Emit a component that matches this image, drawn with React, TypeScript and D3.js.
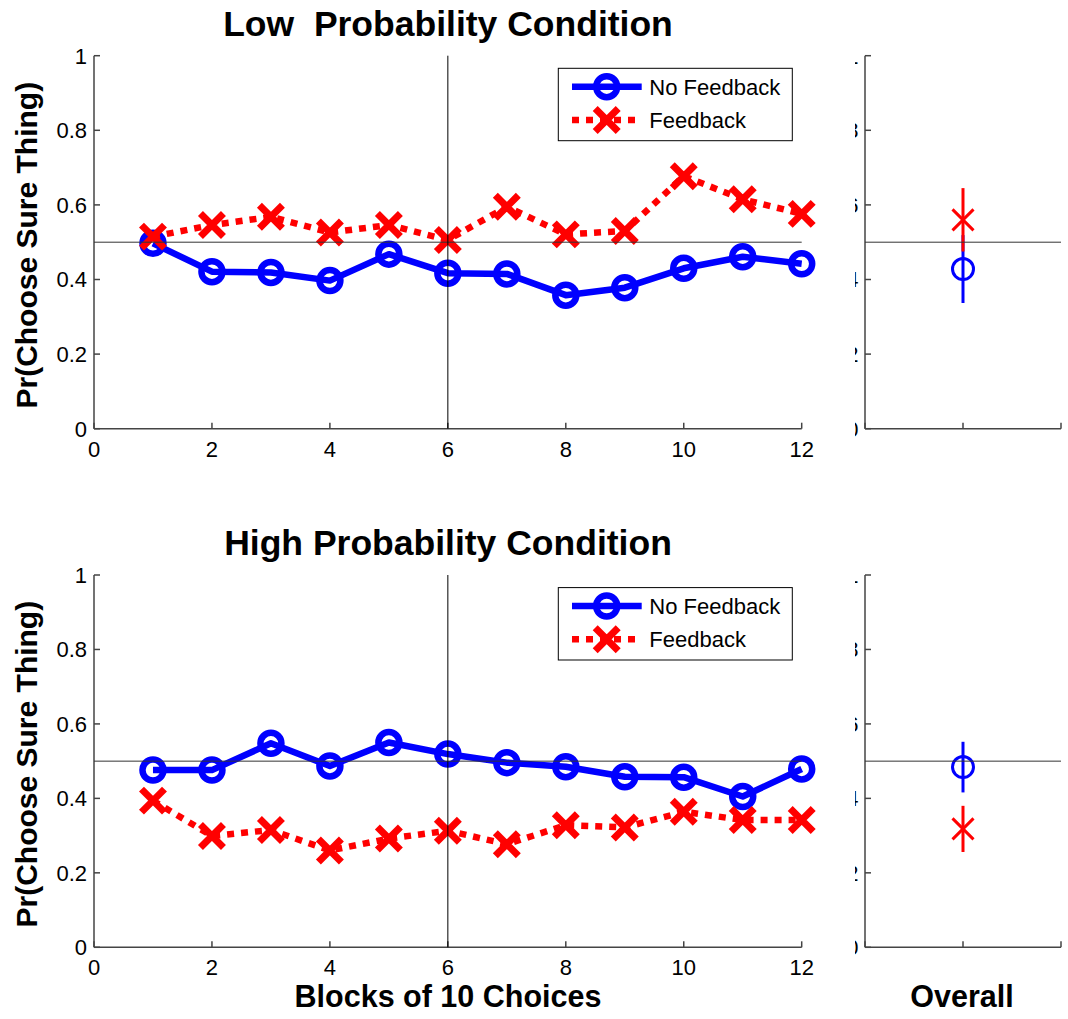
import React, { useEffect, useRef } from "react";
import * as d3 from "d3";

const blocks = [1, 2, 3, 4, 5, 6, 7, 8, 9, 10, 11, 12];
const lowNoFeedback = [0.497, 0.421, 0.419, 0.397, 0.468, 0.417, 0.415, 0.358, 0.378, 0.43, 0.461, 0.442];
const lowFeedback = [0.515, 0.546, 0.568, 0.526, 0.546, 0.506, 0.595, 0.521, 0.53, 0.677, 0.615, 0.576];
const highNoFeedback = [0.476, 0.476, 0.548, 0.487, 0.55, 0.519, 0.496, 0.485, 0.458, 0.457, 0.405, 0.479];
const highFeedback = [0.394, 0.299, 0.315, 0.26, 0.292, 0.313, 0.277, 0.328, 0.322, 0.364, 0.342, 0.342];

// overall mean and half-width of error bar: [no feedback, feedback]
const lowOverall = [0.428, 0.56];
const lowOverallErr = [0.091, 0.085];
const highOverall = [0.484, 0.318];
const highOverallErr = [0.068, 0.062];

const xTicks = [0, 2, 4, 6, 8, 10, 12];
const yTicks = [0, 0.2, 0.4, 0.6, 0.8, 1];
const yTickLabels = ["0", "0.2", "0.4", "0.6", "0.8", "1"];
const overallTicks = [0, 1, 2];
const seriesNames = ["No Feedback", "Feedback"];

const FONT = "'Liberation Sans', Arial, sans-serif";
const BLUE = "#0000ff";
const RED = "#ff0000";
const AXIS = "#444";

const panels = [
    { title: "Low  Probability Condition", top: 55.7, bottom: 428.7, no: lowNoFeedback, fb: lowFeedback, overall: lowOverall, err: lowOverallErr },
    { title: "High Probability Condition", top: 575, bottom: 947.3, no: highNoFeedback, fb: highFeedback, overall: highOverall, err: highOverallErr },
];

const crossPath = (s) => `M${-s},${-s}L${s},${s}M${-s},${s}L${s},${-s}`;

const App = () => {
    const svgRef = useRef(null);

    useEffect(() => {
        const svg = d3.select(svgRef.current);
        svg.selectAll("*").remove();

        svg.append("defs")
            .append("clipPath")
            .attr("id", "rightLabelClip")
            .append("rect")
            .attr("x", 855)
            .attr("y", 0)
            .attr("width", 9)
            .attr("height", 1019);

        const x = d3.scaleLinear().domain([0, 12]).range([94, 801.7]);
        const xo = d3.scaleLinear().domain([0, 2]).range([865, 1061]);

        panels.forEach((p, pi) => {
            const y = d3.scaleLinear().domain([0, 1]).range([p.bottom, p.top]);
            const g = svg.append("g");

            // title
            g.append("text")
                .attr("x", 448)
                .attr("y", p.top - 20)
                .attr("text-anchor", "middle")
                .style("font", `bold 35.5px ${FONT}`)
                .style("white-space", "pre")
                .text(p.title);

            // y label
            g.append("text")
                .attr("transform", `translate(37,${(p.top + p.bottom) / 2 + 3}) rotate(-90)`)
                .attr("text-anchor", "middle")
                .style("font", `bold 30px ${FONT}`)
                .text("Pr(Choose Sure Thing)");

            // axes for both left and right panel
            const drawAxes = (xs, ticks, labelsX) => {
                const x0 = xs.range()[0];
                const x1 = xs.range()[1];
                g.append("line")
                    .attr("x1", x0).attr("x2", x0)
                    .attr("y1", p.top).attr("y2", p.bottom)
                    .attr("stroke", AXIS).attr("stroke-width", 1.5);
                g.append("line")
                    .attr("x1", x0).attr("x2", x1)
                    .attr("y1", p.bottom).attr("y2", p.bottom)
                    .attr("stroke", AXIS).attr("stroke-width", 1.5);
                g.selectAll(null)
                    .data(yTicks)
                    .join("line")
                    .attr("x1", x0).attr("x2", x0 + 6)
                    .attr("y1", (d) => y(d)).attr("y2", (d) => y(d))
                    .attr("stroke", AXIS).attr("stroke-width", 1.5);
                g.selectAll(null)
                    .data(ticks)
                    .join("line")
                    .attr("x1", (d) => xs(d)).attr("x2", (d) => xs(d))
                    .attr("y1", p.bottom).attr("y2", p.bottom - 6)
                    .attr("stroke", AXIS).attr("stroke-width", 1.5);
                if (labelsX) {
                    g.selectAll(null)
                        .data(ticks)
                        .join("text")
                        .attr("x", (d) => xs(d))
                        .attr("y", p.bottom + 28)
                        .attr("text-anchor", "middle")
                        .style("font", `22px ${FONT}`)
                        .text((d) => d);
                }
            };

            drawAxes(x, xTicks, true);
            drawAxes(xo, overallTicks, false);

            g.selectAll(null)
                .data(yTicks)
                .join("text")
                .attr("x", 87)
                .attr("y", (d) => y(d))
                .attr("dy", "0.36em")
                .attr("text-anchor", "end")
                .style("font", `22px ${FONT}`)
                .text((d, i) => yTickLabels[i]);

            // right panel tick labels, mostly hidden behind the left panel
            g.append("g")
                .attr("clip-path", "url(#rightLabelClip)")
                .selectAll("text")
                .data(yTicks)
                .join("text")
                .attr("x", 858.5)
                .attr("y", (d) => y(d))
                .attr("dy", "0.36em")
                .attr("text-anchor", "end")
                .style("font", `22px ${FONT}`)
                .text((d, i) => yTickLabels[i]);

            // series lines
            const line = d3.line().x((d, i) => x(blocks[i])).y((d) => y(d));

            g.append("path")
                .attr("d", line(p.no))
                .attr("fill", "none")
                .attr("stroke", BLUE)
                .attr("stroke-width", 6.5)
                .attr("stroke-linejoin", "round");
            g.selectAll(null)
                .data(p.no)
                .join("circle")
                .attr("cx", (d, i) => x(blocks[i]))
                .attr("cy", (d) => y(d))
                .attr("r", 10.5)
                .attr("fill", "none")
                .attr("stroke", BLUE)
                .attr("stroke-width", 6.5);

            g.append("path")
                .attr("d", line(p.fb))
                .attr("fill", "none")
                .attr("stroke", RED)
                .attr("stroke-width", 6.5)
                .attr("stroke-dasharray", "7,7");
            g.selectAll(null)
                .data(p.fb)
                .join("path")
                .attr("transform", (d, i) => `translate(${x(blocks[i])},${y(d)})`)
                .attr("d", crossPath(11.5))
                .attr("stroke", RED)
                .attr("stroke-width", 7);

            // overall panel
            const cx = xo(1);
            g.append("line")
                .attr("x1", cx).attr("x2", cx)
                .attr("y1", y(p.overall[0] - p.err[0])).attr("y2", y(p.overall[0] + p.err[0]))
                .attr("stroke", BLUE).attr("stroke-width", 3);
            g.append("circle")
                .attr("cx", cx).attr("cy", y(p.overall[0]))
                .attr("r", 10.5)
                .attr("fill", "none")
                .attr("stroke", BLUE).attr("stroke-width", 3);
            g.append("line")
                .attr("x1", cx).attr("x2", cx)
                .attr("y1", y(p.overall[1] - p.err[1])).attr("y2", y(p.overall[1] + p.err[1]))
                .attr("stroke", RED).attr("stroke-width", 3);
            g.append("path")
                .attr("transform", `translate(${cx},${y(p.overall[1])})`)
                .attr("d", crossPath(10.5))
                .attr("stroke", RED).attr("stroke-width", 3);

            // reference lines
            g.append("line")
                .attr("x1", x(0)).attr("x2", x(12))
                .attr("y1", y(0.5)).attr("y2", y(0.5))
                .attr("stroke", "#333").attr("stroke-width", 1);
            g.append("line")
                .attr("x1", xo(0)).attr("x2", xo(2))
                .attr("y1", y(0.5)).attr("y2", y(0.5))
                .attr("stroke", "#333").attr("stroke-width", 1);
            g.append("line")
                .attr("x1", x(6)).attr("x2", x(6))
                .attr("y1", p.top).attr("y2", p.bottom)
                .attr("stroke", "#000").attr("stroke-width", 1);

            // legend
            const lg = g.append("g").attr("transform", `translate(558.3,${p.top + 12.6})`);
            lg.append("rect")
                .attr("width", 234)
                .attr("height", 72.4)
                .attr("fill", "white")
                .attr("stroke", "#000")
                .attr("stroke-width", 1);
            seriesNames.forEach((name, i) => {
                const ly = i === 0 ? 18.4 : 51.7;
                lg.append("line")
                    .attr("x1", 13.7).attr("x2", 83.4)
                    .attr("y1", ly).attr("y2", ly)
                    .attr("stroke", i === 0 ? BLUE : RED)
                    .attr("stroke-width", 6.5)
                    .attr("stroke-dasharray", i === 0 ? null : "7,7");
                if (i === 0) {
                    lg.append("circle")
                        .attr("cx", 48.4).attr("cy", ly).attr("r", 10.5)
                        .attr("fill", "none").attr("stroke", BLUE).attr("stroke-width", 6.5);
                } else {
                    lg.append("path")
                        .attr("transform", `translate(48.4,${ly})`)
                        .attr("d", crossPath(11.5))
                        .attr("stroke", RED).attr("stroke-width", 7);
                }
                lg.append("text")
                    .attr("x", 91)
                    .attr("y", ly)
                    .attr("dy", "0.36em")
                    .style("font", `22px ${FONT}`)
                    .text(name);
            });

            if (pi === 1) {
                svg.append("text")
                    .attr("x", 448).attr("y", 1007)
                    .attr("text-anchor", "middle")
                    .style("font", `bold 30.5px ${FONT}`)
                    .text("Blocks of 10 Choices");
                svg.append("text")
                    .attr("x", 962).attr("y", 1007)
                    .attr("text-anchor", "middle")
                    .style("font", `bold 30.5px ${FONT}`)
                    .text("Overall");
            }
        });
    });

    return (
        <svg
            ref={svgRef}
            width={1068}
            height={1019}
            style={{ position: "absolute", left: 0, top: 0, background: "white" }}
        />
    );
};

export default App;
